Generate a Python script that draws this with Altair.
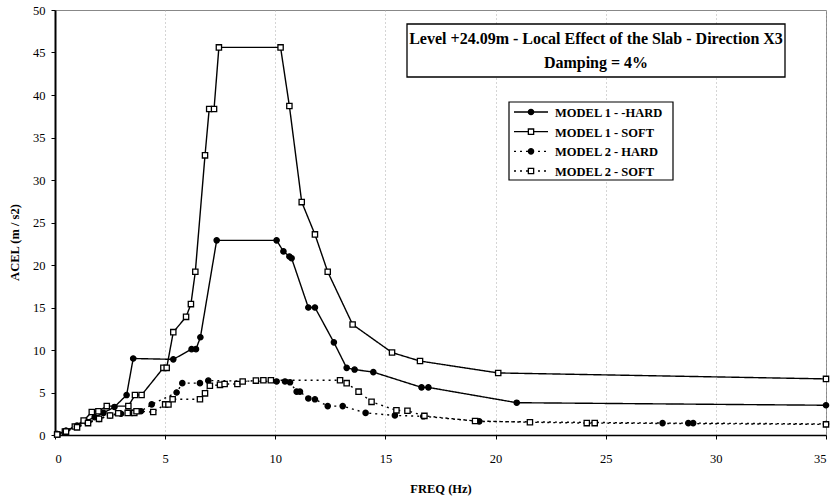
import altair as alt
import pandas as pd

series_names = ["MODEL 1 - -HARD", "MODEL 1 - SOFT", "MODEL 2 - HARD", "MODEL 2 - SOFT"]
title_lines = ["Level +24.09m - Local Effect of the Slab - Direction X3", "Damping = 4%"]
x_ticks = [0, 5, 10, 15, 20, 25, 30, 35]
y_ticks = [0, 5, 10, 15, 20, 25, 30, 35, 40, 45, 50]

m1_hard_x = [0.1, 0.5, 1.0, 1.4, 1.8, 2.2, 2.7, 3.25, 3.55, 5.37, 6.2, 6.4, 6.6, 7.34, 10.06, 10.37,
             10.64, 10.74, 11.5, 11.8, 12.66, 13.24, 13.6, 14.45, 16.64, 16.95, 20.96, 35.0]
m1_hard_y = [0.1, 0.5, 1.1, 1.6, 2.1, 2.6, 3.3, 4.7, 9.0, 8.9, 10.1, 10.1, 11.5, 22.9, 22.9, 21.6,
             21.0, 20.8, 15.0, 15.0, 10.9, 7.9, 7.7, 7.4, 5.6, 5.6, 3.8, 3.5]

m1_soft_x = [0.1, 0.45, 0.9, 1.3, 1.67, 1.97, 2.35, 3.33, 3.63, 3.93, 4.92, 5.07, 5.37, 5.95, 6.17,
             6.37, 6.81, 7.0, 7.22, 7.44, 10.24, 10.64, 11.2, 11.8, 12.38, 13.51, 15.3, 16.57, 20.12, 35.0]
m1_soft_y = [0.05, 0.4, 1.0, 1.7, 2.7, 2.8, 3.4, 3.4, 4.7, 4.7, 7.9, 7.9, 12.1, 13.9, 15.4,
             19.2, 32.9, 38.35, 38.35, 45.6, 45.6, 38.7, 27.4, 23.6, 19.2, 13.0, 9.7, 8.7, 7.3, 6.6]

m2_hard_x = [0.1, 0.5, 1.0, 1.5, 2.0, 2.5, 3.0, 3.5, 3.9, 4.39, 5.52, 5.78, 6.58, 6.96, 10.06, 10.44,
             10.67, 10.97, 11.12, 11.5, 11.8, 12.38, 13.06, 14.1, 15.43, 16.72, 19.26, 27.58, 28.75,
             28.97, 35.0]
m2_hard_y = [0.1, 0.5, 1.0, 1.5, 1.9, 2.3, 2.5, 2.6, 2.8, 3.6, 5.0, 6.1, 6.1, 6.4, 6.3, 6.3,
             6.2, 5.1, 5.1, 4.3, 4.2, 3.4, 3.4, 2.6, 2.3, 2.2, 1.6, 1.4, 1.4, 1.4, 1.3]

m2_soft_x = [0.1, 0.5, 1.0, 1.5, 2.0, 2.5, 2.87, 3.3, 3.6, 3.7, 4.46, 5.0, 5.15, 5.34, 6.58, 6.81,
             7.03, 7.49, 7.7, 8.28, 8.52, 9.12, 9.46, 9.8, 12.94, 13.24, 13.78, 14.37, 15.5, 16.0,
             16.77, 19.07, 21.56, 24.14, 24.5, 35.0]
m2_soft_y = [0.05, 0.4, 0.9, 1.4, 1.9, 2.3, 2.55, 2.6, 2.6, 2.8, 2.7, 3.6, 3.6, 4.2, 4.2, 4.9,
             5.8, 5.9, 6.0, 6.0, 6.3, 6.4, 6.45, 6.45, 6.45, 6.1, 5.1, 3.9, 2.9, 2.85,
             2.25, 1.65, 1.5, 1.4, 1.4, 1.25]

rows = []
for name, xs, ys in zip(series_names,
                        [m1_hard_x, m1_soft_x, m2_hard_x, m2_soft_x],
                        [m1_hard_y, m1_soft_y, m2_hard_y, m2_soft_y]):
    for i, (xv, yv) in enumerate(zip(xs, ys)):
        rows.append({"series": name, "freq": xv, "acel": yv, "idx": i})
df = pd.DataFrame(rows)

FONT = "Liberation Serif"
dash_scale = alt.Scale(domain=series_names, range=[[1, 0], [1, 0], [2, 4], [2, 4]])
shape_scale = alt.Scale(domain=series_names, range=["circle", "square", "circle", "square"])
fill_scale = alt.Scale(domain=series_names, range=["black", "white", "black", "white"])

x_enc = alt.X("freq:Q", scale=alt.Scale(domain=[0, 35], nice=False, zero=False),
              axis=alt.Axis(values=x_ticks, title="FREQ (Hz)", grid=True, gridDash=[1, 3],
                            gridColor="#aaaaaa", gridWidth=1, labelPadding=13, titlePadding=18,
                            domainWidth=1.5))
y_enc = alt.Y("acel:Q", scale=alt.Scale(domain=[0, 50], nice=False),
              axis=alt.Axis(values=y_ticks, title="ACEL (m / s2)", grid=False, labelPadding=6,
                            domainWidth=2, titleX=-34, titleY=232))

lines = alt.Chart(df).mark_line(color="black", strokeWidth=1.4).encode(
    x=x_enc, y=y_enc, detail="series:N", order="idx:Q",
    strokeDash=alt.StrokeDash("series:N", scale=dash_scale, legend=None))

points = alt.Chart(df).mark_point(opacity=1, size=28, strokeWidth=1.3, stroke="black").encode(
    x=x_enc, y=y_enc,
    shape=alt.Shape("series:N", scale=shape_scale, legend=None),
    fill=alt.Fill("series:N", scale=fill_scale, legend=None))

data_layer = alt.layer(lines, points)

# ---- legend (drawn as its own small layer with its own row scale) ----
legend_df = pd.DataFrame({"series": series_names})
row_y = alt.Y("series:N", scale=alt.Scale(type="point", domain=series_names, range=[102, 161],
                                          padding=0), axis=None)

leg_frame = alt.Chart(pd.DataFrame({"a": [0]})).mark_rect(
    fill="white", stroke="black", strokeWidth=1.2).encode(
    x=alt.value(454), x2=alt.value(618), y=alt.value(92), y2=alt.value(170))
leg_lines = alt.Chart(legend_df).mark_rule(color="black", strokeWidth=1.4).encode(
    x=alt.value(459), x2=alt.value(493), y=row_y,
    strokeDash=alt.StrokeDash("series:N", scale=dash_scale, legend=None))
leg_points = alt.Chart(legend_df).mark_point(opacity=1, size=28, strokeWidth=1.3,
                                             stroke="black").encode(
    x=alt.value(476), y=row_y,
    shape=alt.Shape("series:N", scale=shape_scale, legend=None),
    fill=alt.Fill("series:N", scale=fill_scale, legend=None))
leg_text = alt.Chart(legend_df).mark_text(
    font=FONT, fontWeight="bold", fontSize=12.5, color="black", align="left",
    baseline="middle", dx=0, dy=1).encode(x=alt.value(500), y=row_y, text="series:N")
legend_layer = alt.layer(leg_frame, leg_lines, leg_points, leg_text)

# ---- title box ----
box = alt.Chart(pd.DataFrame({"a": [0]})).mark_rect(
    fill="white", stroke="black", strokeWidth=1.3).encode(
    x=alt.value(352), x2=alt.value(730), y=alt.value(14), y2=alt.value(67))
title_df = pd.DataFrame({"t": title_lines, "k": [0, 1]})
t1 = alt.Chart(title_df).transform_filter("datum.k == 0").mark_text(
    font=FONT, fontWeight="bold", fontSize=16, color="black", align="center", baseline="middle").encode(
    x=alt.value(541), y=alt.value(29), text="t:N")
t2 = alt.Chart(title_df).transform_filter("datum.k == 1").mark_text(
    font=FONT, fontWeight="bold", fontSize=16, color="black", align="center", baseline="middle").encode(
    x=alt.value(541), y=alt.value(53), text="t:N")
title_layer = alt.layer(box, t1, t2)

chart = alt.layer(data_layer, legend_layer, title_layer).resolve_scale(
    y="independent").properties(
    width=771, height=425,
    autosize=alt.AutoSizeParams(type="none"),
    padding={"left": 55, "top": 10, "right": 10, "bottom": 63},
    background="white"
).configure_view(stroke="#888888", strokeWidth=1).configure_axis(
    domainColor="black", tickColor="black", tickSize=4, labelFont=FONT, labelFontSize=12.5,
    labelColor="black", titleFont=FONT, titleFontSize=12.5, titleFontWeight="bold",
    titleColor="black"
)

chart.save("out.html", embed_options={"renderer": "svg", "actions": False})
